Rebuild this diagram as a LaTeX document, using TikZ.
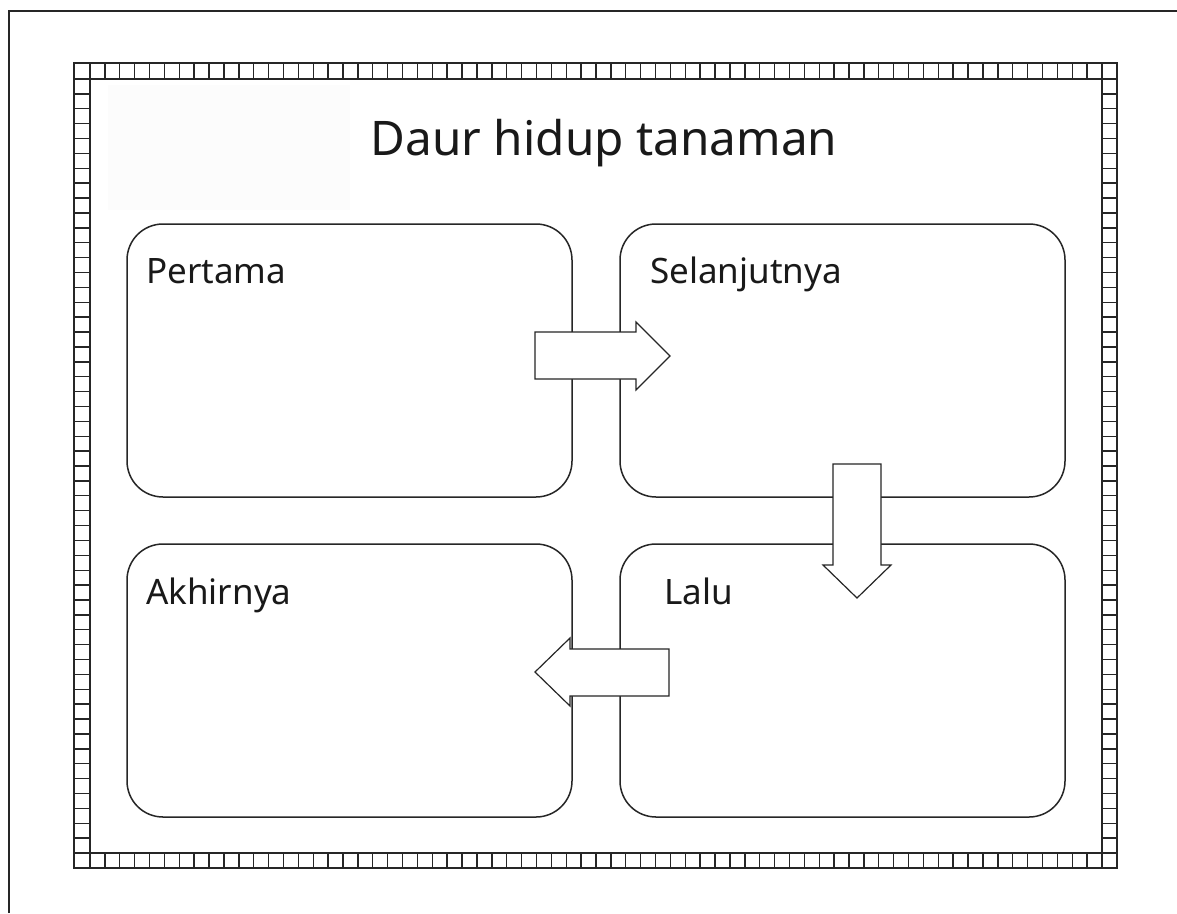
\documentclass[tikz,border=0pt]{standalone}
\usepackage{fontspec}
\setmainfont{Noto Sans}
\begin{document}
\begin{tikzpicture}[x=1pt,y=-1pt,
  box/.style={draw=black!85,line width=1.5pt,rounded corners=36pt,fill=none,minimum width=445pt,minimum height=273pt,inner sep=0pt},
  lbl/.style={anchor=base west,inner sep=0pt,font=\fontsize{35}{40}\selectfont,text=black!90},
  blockarrow/.style={draw=black!85,line width=1.2pt,fill=white,line join=miter},
  band/.style={draw=black!85,line width=1.4pt}]
\useasboundingbox (0,0) rectangle (1177,913);
\fill[white] (0,0) rectangle (1177,913);
% outer frame (only top and left visible)
\draw[line width=2.6pt,black!85] (9,913) -- (9,11) -- (1177,11);
% faint title background
\fill[black!1] (108,85) rectangle (350,210);
% checkered border
\draw[band] (74,63) rectangle (1117,868);
\draw[band] (90,79) rectangle (1102,853);
\foreach \i in {0,...,68}{
  \pgfmathsetmacro{\xx}{90+\i*14.882}
  \draw[band] (\xx,63) -- (\xx,79);
  \draw[band] (\xx,853) -- (\xx,868);
}
\foreach \j in {0,...,52}{
  \pgfmathsetmacro{\yy}{79+\j*14.885}
  \draw[band] (74,\yy) -- (90,\yy);
  \draw[band] (1102,\yy) -- (1117,\yy);
}
% title
\node[anchor=base,inner sep=0pt,font=\fontsize{47.7}{54}\selectfont,text=black!90] (title) at (604,155) {Daur hidup tanaman};
% boxes
\node[box] (b1) at (349.5,360.5) {};
\node[box] (b2) at (842.5,360.5) {};
\node[box] (b3) at (349.5,680.5) {};
\node[box] (b4) at (842.5,680.5) {};
% labels
\node[lbl] (l1) at (146,283) {Pertama};
\node[lbl] (l2) at (650,283) {Selanjutnya};
\node[lbl] (l3) at (146,604) {Akhirnya};
\node[lbl] (l4) at (664,604) {Lalu};
% block arrows
\draw[blockarrow] (535,332) -- (636,332) -- (636,322) -- (670,356) -- (636,390) -- (636,379) -- (535,379) -- cycle;
\draw[blockarrow] (833,464) -- (881,464) -- (881,565) -- (891,565) -- (857,598) -- (823,565) -- (833,565) -- cycle;
\draw[blockarrow] (669,649) -- (570,649) -- (570,638) -- (535,672) -- (570,706) -- (570,696) -- (669,696) -- cycle;
\end{tikzpicture}
\end{document}
